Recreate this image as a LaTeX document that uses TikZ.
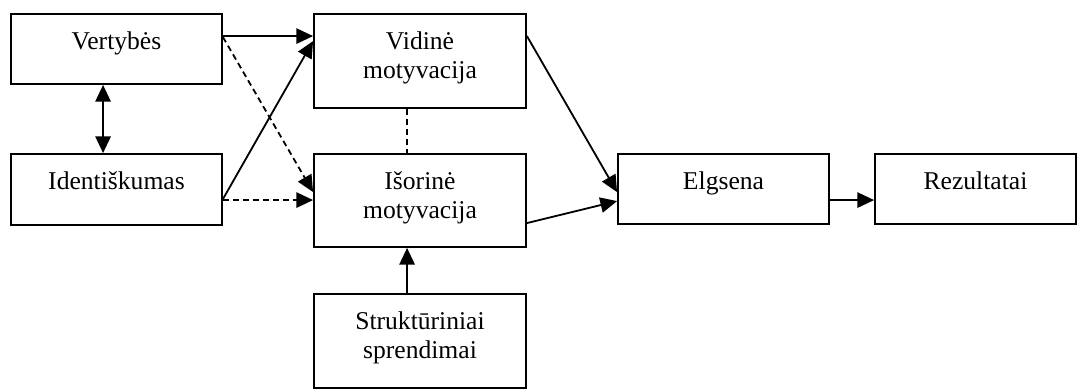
\documentclass[tikz,border=0pt]{standalone}
\usepackage{fontspec}
\setmainfont{Liberation Serif}
\usetikzlibrary{arrows.meta,calc}
\begin{document}
\begin{tikzpicture}[x=0.75pt,y=-0.75pt,
  box/.style={draw,line width=1.4pt,inner sep=0pt},
  txt/.style={anchor=base,inner sep=0pt,font=\fontsize{19.2}{21.75}\selectfont},
  link/.style={line width=1.35pt},
  tip/.tip={Triangle[length=12.5pt,width=11.5pt]},
  arr/.style={link,-tip},
  darr/.style={link,tip-tip},
  dashline/.style={link,dash pattern=on 4.5pt off 3pt}]
\useasboundingbox (0,0) rectangle (1077,390);

% boxes
\node[box,minimum width=158.25pt,minimum height=52.5pt] (vert) at (116.5,49) {};
\node[box,minimum width=158.25pt,minimum height=53.25pt] (iden) at (116.5,189.5) {};
\node[box,minimum width=159pt,minimum height=70.5pt] (vid) at (420,61) {};
\node[box,minimum width=159pt,minimum height=69.75pt] (isor) at (420,200.5) {};
\node[box,minimum width=159pt,minimum height=70.5pt] (strk) at (420,341) {};
\node[box,minimum width=158.25pt,minimum height=52.5pt] (elg) at (723.5,189) {};
\node[box,minimum width=150.75pt,minimum height=52.5pt] (rez) at (975.5,189) {};

% box texts
\node[txt] (vert-t) at (116.5,49) {Vertybės};
\node[txt] (iden-t) at (116.5,189) {Identiškumas};
\node[txt] (vid-t1) at (420,49) {Vidinė};
\node[txt] (vid-t2) at (420,78) {motyvacija};
\node[txt] (isor-t1) at (420,189) {Išorinė};
\node[txt] (isor-t2) at (420,218) {motyvacija};
\node[txt] (strk-t1) at (420,329) {Struktūriniai};
\node[txt] (strk-t2) at (420,358) {sprendimai};
\node[txt] (elg-t) at (723.5,189) {Elgsena};
\node[txt] (rez-t) at (975.5,189) {Rezultatai};

% connectors
\draw[arr] ($(vert.north east)+(0,23)$) -- ($(vid.north west)+(0,23)$);
\draw[arr,dashline] ($(vert.north east)+(0,24)$) -- ($(isor.north west)+(0,39)$);
\draw[arr] ($(iden.north east)+(0,46)$) -- ($(vid.north west)+(0,28)$);
\draw[arr,dashline] ($(iden.north east)+(0,47)$) -- ($(isor.north west)+(0,47)$);
\draw[darr] ($(vert.south west)+(93,0)$) -- ($(iden.north west)+(93,0)$);
\draw[dashline] ($(vid.south west)+(94,0)$) -- ($(isor.north west)+(94,0)$);
\draw[arr] ($(vid.north east)+(0,23)$) -- ($(elg.north west)+(0,39)$);
\draw[arr] ($(isor.north east)+(0,70)$) -- ($(elg.north west)+(0,48)$);
\draw[arr] ($(elg.north east)+(0,47)$) -- ($(rez.north west)+(0,47)$);
\draw[arr] ($(strk.north west)+(94,0)$) -- ($(isor.south west)+(94,0)$);
\end{tikzpicture}
\end{document}
